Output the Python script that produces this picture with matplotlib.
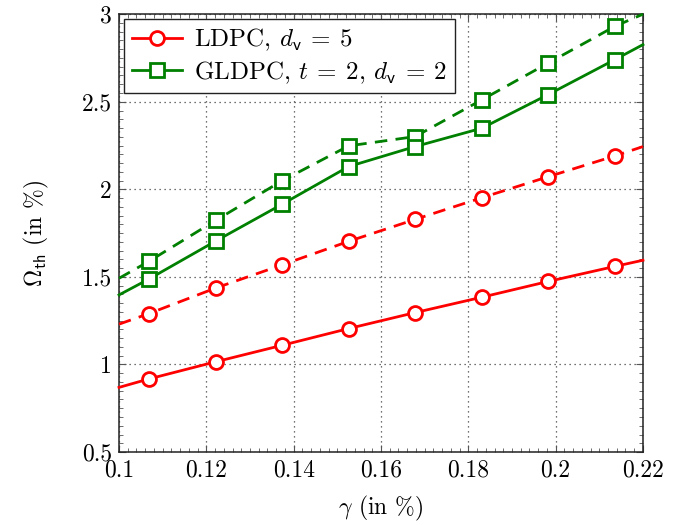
import matplotlib
matplotlib.use("Agg")
import matplotlib.pyplot as plt
from matplotlib.ticker import MultipleLocator, FormatStrFormatter

plt.rcParams['font.family'] = 'serif'
plt.rcParams['font.serif'] = ['cmr10']
plt.rcParams['mathtext.fontset'] = 'cm'
plt.rcParams['axes.formatter.use_mathtext'] = True

# x positions: axis edges (0.1, 0.22) carry the line, markers only on the inner points
gamma = [0.1, 0.1068, 0.1221, 0.1373, 0.1526, 0.1678, 0.1831, 0.1983, 0.2136, 0.22]

ldpc_solid = [0.869, 0.917, 1.015, 1.109, 1.205, 1.296, 1.384, 1.474, 1.560, 1.595]
ldpc_dashed = [1.230, 1.290, 1.436, 1.568, 1.703, 1.828, 1.952, 2.072, 2.191, 2.244]
gldpc_solid = [1.397, 1.487, 1.704, 1.914, 2.130, 2.244, 2.349, 2.541, 2.741, 2.826]
gldpc_dashed = [1.492, 1.588, 1.822, 2.048, 2.248, 2.301, 2.511, 2.721, 2.931, 3.0]

RED = '#ff0000'
GREEN = '#008000'

fig = plt.figure(figsize=(6.84, 5.25), dpi=100)
ax = fig.add_axes([0.174, 0.139, 0.766, 0.834])

mk = dict(markevery=slice(1, 9), markersize=10, markeredgewidth=2,
          markerfacecolor='white', linewidth=2, clip_on=False)
dash = (0, (4.5, 3))

ax.plot(gamma, ldpc_solid, color=RED, marker='o',
        label=r'LDPC, $d_{\mathsf{v}}\:=\:5$', zorder=4, **mk)
ax.plot(gamma, gldpc_solid, color=GREEN, marker='s',
        label=r'GLDPC, $t\:=\:2$, $d_{\mathsf{v}}\:=\:2$', zorder=4, **mk)
ax.plot(gamma, ldpc_dashed, color=RED, marker='o', linestyle=dash, zorder=3, **mk)
ax.plot(gamma, gldpc_dashed, color=GREEN, marker='s', linestyle=dash, zorder=3, **mk)

ax.set_xlim(0.1, 0.22)
ax.set_ylim(0.5, 3)
ax.xaxis.set_major_locator(MultipleLocator(0.02))
ax.yaxis.set_major_locator(MultipleLocator(0.5))
ax.xaxis.set_minor_locator(MultipleLocator(0.002))
ax.yaxis.set_minor_locator(MultipleLocator(0.05))
ax.xaxis.set_major_formatter(FormatStrFormatter('%g'))
ax.yaxis.set_major_formatter(FormatStrFormatter('%g'))

ax.grid(True, which='major', color='#444444', linestyle=(0, (1, 3)), linewidth=0.9)
ax.tick_params(which='both', direction='in', top=True, right=True,
               color='#555555', labelsize=17, pad=5)
ax.tick_params(which='major', length=5, width=0.8)
ax.tick_params(which='minor', length=3, width=0.6)
for s in ax.spines.values():
    s.set_linewidth(1.1)
    s.set_color('#222222')

ax.set_xlabel(r'$\gamma$ (in %)', fontsize=17, labelpad=9)
ax.set_ylabel(r'$\Omega_{\mathsf{th}}$ (in %)', fontsize=17, labelpad=22)

leg = ax.legend(loc='upper left', fontsize=18, numpoints=1, handlelength=2.0,
                fancybox=False, edgecolor='#222222', framealpha=1,
                borderaxespad=0.2, borderpad=0.3, labelspacing=0.25, handletextpad=0.5)
leg.get_frame().set_linewidth(1.0)
leg.set_zorder(6)

fig.savefig('out.png', dpi=100)
